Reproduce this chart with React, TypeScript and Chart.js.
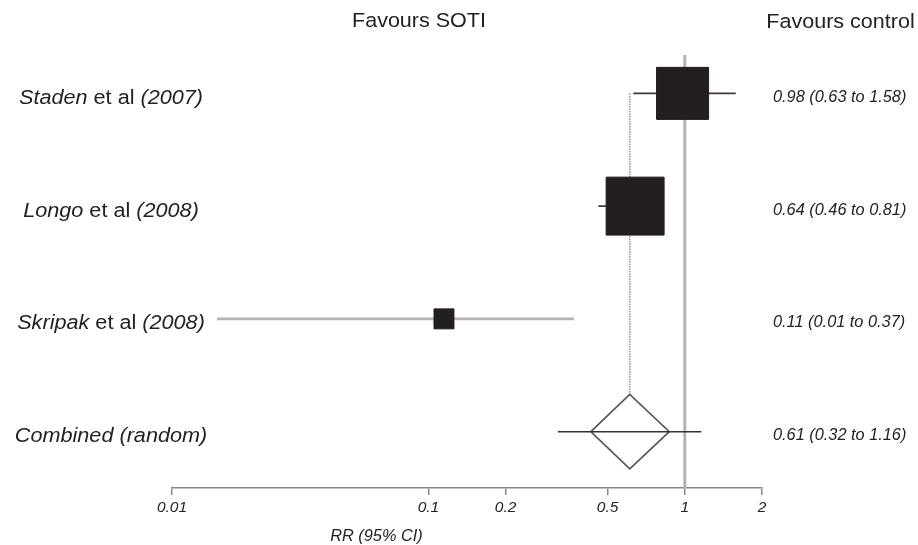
import React, { useEffect, useRef } from "react";
import { Chart, registerables } from "chart.js";

Chart.register(...registerables);

// ---------- data ----------
const studyAuthors = ["Staden", "Longo", "Skripak"];
const studyYears = ["2007", "2008", "2008"];
const combinedLabel = "Combined (random)";
const studyRR = [0.98, 0.64, 0.115];
const studyLower = [0.63, 0.46, 0.015];
const studyUpper = [1.58, 0.81, 0.37];
const pooledRR = 0.61;
const pooledLower = 0.32;
const pooledUpper = 1.16;
const diamondLower = 0.43;
const diamondUpper = 0.87;
const ciLabels = [
  "0.98 (0.63 to 1.58)",
  "0.64 (0.46 to 0.81)",
  "0.11 (0.01 to 0.37)",
  "0.61 (0.32 to 1.16)",
];
const tickValues = [0.01, 0.1, 0.2, 0.5, 1, 2];
const tickLabels = ["0.01", "0.1", "0.2", "0.5", "1", "2"];
const headerLeft = "Favours SOTI";
const headerRight = "Favours control";
const axisTitle = "RR (95% CI)";

// ---------- styles ----------
const FONT = '"Liberation Sans", Arial, Helvetica, sans-serif';
const squareRadii = [36.8, 41, 14.1];
const diamondHalf = 0.33;
const textColor = "#222";

type Seg = { t: string; it: boolean };

function drawSegs(
  ctx: CanvasRenderingContext2D,
  segs: Seg[],
  x: number,
  y: number,
  size: number,
  stretch: number,
  align: "left" | "center"
) {
  let total = 0;
  segs.forEach((s) => {
    ctx.font = `${s.it ? "italic " : ""}${size}px ${FONT}`;
    total += ctx.measureText(s.t).width;
  });
  ctx.save();
  ctx.translate(x, y);
  ctx.scale(stretch, 1);
  ctx.textAlign = "left";
  ctx.textBaseline = "alphabetic";
  let cx = align === "center" ? -total / 2 : 0;
  segs.forEach((s) => {
    ctx.font = `${s.it ? "italic " : ""}${size}px ${FONT}`;
    ctx.fillText(s.t, cx, 0);
    cx += ctx.measureText(s.t).width;
  });
  ctx.restore();
}

const textPlugin = {
  id: "forestText",
  afterDraw(chart: any) {
    const ctx = chart.ctx as CanvasRenderingContext2D;
    const ys = chart.scales.y;
    ctx.save();
    ctx.fillStyle = textColor;

    // headers
    drawSegs(ctx, [{ t: headerLeft, it: false }], 419, 27, 20.5, 1.05, "center");
    drawSegs(ctx, [{ t: headerRight, it: false }], 840.5, 27.5, 20.5, 1.05, "center");

    // row labels
    const rows: Seg[][] = studyAuthors.map((a, i) => [
      { t: a, it: true },
      { t: " et al ", it: false },
      { t: "(" + studyYears[i] + ")", it: true },
    ]);
    rows.push([{ t: combinedLabel, it: true }]);
    rows.forEach((segs, i) => {
      drawSegs(ctx, segs, 111, ys.getPixelForValue(i) + 10.5, 19.5, 1.11, "center");
    });

    // CI labels
    ciLabels.forEach((l, i) => {
      drawSegs(ctx, [{ t: l, it: true }], 773, ys.getPixelForValue(i) + 8.5, 16, 1.02, "left");
    });

    // axis title
    drawSegs(ctx, [{ t: axisTitle, it: true }], 376.5, 541, 16, 1.02, "center");
    ctx.restore();
  },
};

export default function App() {
  const ref = useRef<HTMLCanvasElement>(null);

  useEffect(() => {
    if (!ref.current) return;
    const lineBase = {
      showLine: true,
      pointRadius: 0,
      pointHoverRadius: 0,
      fill: false,
      tension: 0,
      clip: false as any,
    };
    const datasets: any[] = [];
    // squares
    datasets.push({
      label: "studies",
      data: studyRR.map((v, i) => ({ x: v, y: i })),
      pointStyle: "rect",
      pointRadius: squareRadii,
      pointHoverRadius: squareRadii,
      backgroundColor: "#231f20",
      borderColor: "#231f20",
      borderWidth: 1,
      showLine: false,
      order: 0,
      clip: false,
    });
    // study CIs
    studyRR.forEach((_, i) => {
      datasets.push({
        ...lineBase,
        label: "ci" + i,
        data: [
          { x: studyLower[i], y: i },
          { x: studyUpper[i], y: i },
        ],
        borderColor: i === 2 ? "#b3b3b3" : "#3a3a3a",
        borderWidth: i === 2 ? 2.6 : 1.6,
        order: 2,
      });
    });
    // pooled CI line
    datasets.push({
      ...lineBase,
      label: "pooledCI",
      data: [
        { x: pooledLower, y: 3 },
        { x: pooledUpper, y: 3 },
      ],
      borderColor: "#333",
      borderWidth: 1.5,
      order: 1,
    });
    // diamond
    datasets.push({
      ...lineBase,
      label: "diamond",
      data: [
        { x: diamondLower, y: 3 },
        { x: pooledRR, y: 3 - diamondHalf },
        { x: diamondUpper, y: 3 },
        { x: pooledRR, y: 3 + diamondHalf },
        { x: diamondLower, y: 3 },
      ],
      borderColor: "#555",
      borderWidth: 1.6,
      order: 3,
    });
    // dotted pooled line
    datasets.push({
      ...lineBase,
      label: "pooledRef",
      data: [
        { x: pooledRR, y: 0 },
        { x: pooledRR, y: 3 - diamondHalf },
      ],
      borderColor: "#9c9c9c",
      borderWidth: 1.6,
      borderDash: [1.5, 1],
      order: 4,
    });
    // null line
    datasets.push({
      ...lineBase,
      label: "null",
      data: [
        { x: 1, y: -0.34 },
        { x: 1, y: 3.5 },
      ],
      borderColor: "#b3b3b3",
      borderWidth: 3,
      order: 5,
    });

    const chart = new Chart(ref.current, {
      type: "scatter",
      data: { datasets },
      options: {
        animation: false,
        responsive: false,
        devicePixelRatio: 1,
        events: [],
        layout: {
          autoPadding: false,
          padding: { left: 172, right: 156, top: 37, bottom: 0 },
        },
        plugins: {
          legend: { display: false },
          tooltip: { enabled: false },
          title: { display: false },
        },
        scales: {
          x: {
            type: "logarithmic",
            min: 0.01,
            max: 2,
            afterBuildTicks: (s: any) => {
              s.ticks = tickValues.map((v) => ({ value: v }));
            },
            afterFit: (s: any) => {
              s.height = 57;
            },
            ticks: {
              autoSkip: false,
              maxRotation: 0,
              padding: 3,
              color: textColor,
              font: { family: FONT, size: 15.5, style: "italic" },
              callback: (_v: any, i: number) => tickLabels[i],
            },
            grid: {
              drawOnChartArea: false,
              drawTicks: true,
              tickLength: 7,
              color: "#888",
              lineWidth: 1.5,
            },
            border: { display: true, color: "#888", width: 1.5 },
          },
          y: {
            type: "linear",
            min: -0.5,
            max: 3.5,
            reverse: true,
            display: false,
          },
        },
      } as any,
      plugins: [textPlugin],
    });
    return () => chart.destroy();
  }, []);

  return (
    <div style={{ position: "fixed", left: 0, top: 0, width: 918, height: 545, background: "#fff" }}>
      <canvas ref={ref} width={918} height={545} />
    </div>
  );
}
